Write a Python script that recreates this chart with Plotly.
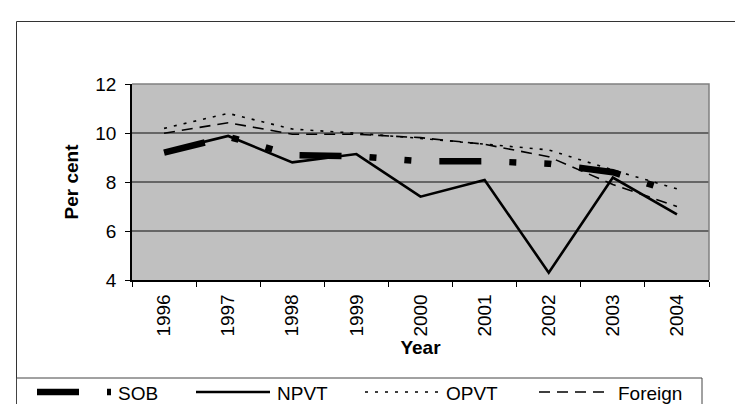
import plotly.graph_objects as go

years = ["1996", "1997", "1998", "1999", "2000", "2001", "2002", "2003", "2004"]
sob = [9.2, 9.85, 9.1, 9.05, 8.85, 8.85, 8.75, 8.4, 7.55]
npvt = [9.24, 9.88, 8.8, 9.14, 7.4, 8.08, 4.3, 8.18, 6.68]
opvt = [10.19, 10.8, 10.16, 9.99, 9.78, 9.54, 9.31, 8.49, 7.72]
foreign = [9.99, 10.42, 9.95, 9.95, 9.81, 9.54, 9.03, 7.9, 7.0]
series_names = ["SOB", "NPVT", "OPVT", "Foreign"]

W, H = 743, 404
L, R, T, B = 124, 701, 76, 272
pw, ph = R - L, B - T

def px(x):
    return (x - L) / pw

def py(y):
    return (B - y) / ph

styles = [
    dict(color="black", width=6.5, dash="42px,28px,7px,28px,7px,28px"),
    dict(color="black", width=2.6),
    dict(color="black", width=1.6, dash="3px,7px"),
    dict(color="black", width=1.6, dash="11px,7px"),
]

fig = go.Figure()
for name, vals, st in zip(series_names, [sob, npvt, opvt, foreign], styles):
    fig.add_trace(go.Scatter(x=years, y=vals, name=name, mode="lines",
                             line=st, showlegend=False))

font = "Liberation Sans, Arial, sans-serif"
fig.update_layout(
    width=W, height=H,
    margin=dict(l=L, r=W - R, t=T, b=H - B, pad=0),
    paper_bgcolor="white",
    plot_bgcolor="#C0C0C0",
    font=dict(family=font, size=19, color="black"),
    xaxis=dict(type="category", tickangle=-90, ticks="outside", tickson="boundaries",
               ticklen=5, tickcolor="black", showline=True, linecolor="black", linewidth=1.5,
               showgrid=False, ticklabelstandoff=5,
               title=dict(text="<b>Year</b>", font=dict(size=19, family=font), standoff=2),
               tickfont=dict(size=19, family=font), range=[-0.5, 8.5]),
    yaxis=dict(range=[4, 12], dtick=2, ticks="outside", ticklen=5, tickcolor="black",
               showline=True, linecolor="black", linewidth=1.5, ticklabelstandoff=5,
               showgrid=True, gridcolor="#666666", gridwidth=1.5, zeroline=False,
               title=dict(text="<b>Per cent</b>", font=dict(size=19, family=font), standoff=12),
               tickfont=dict(size=19, family=font)),
)

# gray top/right edges of plot area
fig.add_shape(type="path", xref="paper", yref="paper",
              path="M 0 1 L 1 1 L 1 0", line=dict(color="#808080", width=1.5))
# outer chart border (left and top)
fig.add_shape(type="path", xref="paper", yref="paper",
              path=f"M {px(8.5)} {py(420)} L {px(8.5)} {py(13.5)} L {px(760)} {py(13.5)}",
              line=dict(color="#333333", width=1))

# legend box
fig.add_shape(type="rect", xref="paper", yref="paper",
              x0=px(8.5), x1=px(694), y0=py(370), y1=py(401.5),
              line=dict(color="#444444", width=1), fillcolor="white", layer="above")
sym_x = [29, 188, 357, 531]
sym_len = [74, 74, 74, 72]
ly = 384
for name, st, sx, sl in zip(series_names, styles, sym_x, sym_len):
    fig.add_shape(type="line", xref="paper", yref="paper",
                  x0=px(sx), x1=px(sx + sl), y0=py(ly), y1=py(ly),
                  line=st, layer="above")
    fig.add_annotation(text=name, xref="paper", yref="paper",
                       x=px(sx + sl + 5), y=py(ly + 1), xanchor="left", yanchor="middle",
                       showarrow=False, font=dict(size=19, family=font))

fig.write_html("out.html")
